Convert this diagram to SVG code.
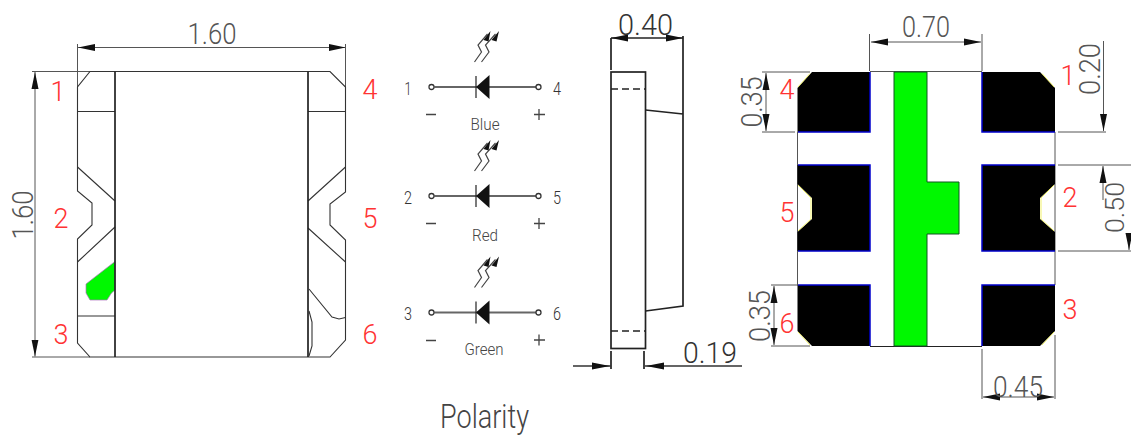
<svg xmlns="http://www.w3.org/2000/svg" width="1131" height="435" viewBox="0 0 1131 435">
<defs>
<marker id="a" markerUnits="userSpaceOnUse" markerWidth="18" markerHeight="9" refX="17" refY="4.500" orient="auto-start-reverse"><path d="M0 1L17 4.500L0 8Z" fill="#111"/></marker>
<g id="dio">
<path d="M2.800 0H105" stroke="#666" stroke-width="2"/>
<circle cx="0" cy="0" r="2.500" fill="#fff" stroke="#333" stroke-width="1.300"/><circle cx="107" cy="0" r="2.500" fill="#fff" stroke="#333" stroke-width="1.300"/>
<path d="M44.500 0L58 -12V12Z" fill="#111"/><path d="M44.500 -11V11" stroke="#222" stroke-width="1.200"/>
<path d="M43 -25L50 -35L46.500 -42L56 -53M50 -25L57.500 -35L54 -42L64 -53" fill="none" stroke="#444" stroke-width="1.200"/>
<path d="M52 -47L59 -56L57 -45.500ZM60 -47L67.500 -56L65 -45.500Z" fill="#111"/>
</g>
</defs>
<style>
text{font-family:Roboto,"Liberation Sans",Arial,sans-serif;font-weight:300}
.dim{fill:#555;font-size:30px}
.red{fill:#f33;font-size:27px}
.sm{fill:#444;font-size:16px}
.sig{fill:#333;font-size:19px}
.l{fill:none;stroke:#333;stroke-width:1.100}
.k{fill:none;stroke:#222;stroke-width:1.700}
.d{fill:none;stroke:#555;stroke-width:1}
.ar{marker-start:url(#a);marker-end:url(#a)}
.pad{fill:#000}
.blue{fill:none;stroke:#00c;stroke-width:1.500}
.g{fill:#00f800;stroke:#152;stroke-width:1}
</style>
<g id="connectors">
<path class="d ar" d="M78 47.500H345.500" stroke-width="1.300"/>
<path class="d" d="M77.500 44V88M345.500 44V88"/>
<path class="d ar" d="M35 72V356.500"/>
<path class="d" d="M32 71.500H90M32 357H90"/>
<path class="k ar" d="M611 38H683" stroke-width="1.400"/>
<path class="d ar" d="M871 42H981"/>
<path class="d" d="M869.500 34V71M982 34V71"/>
<path class="d" d="M762 72H810M762 132H795"/>
<path class="d ar" d="M766 73V131"/>
<path class="d" d="M1058 132H1106"/>
<path class="d" d="M1103.500 41V131" marker-end="url(#a)"/>
<path class="d" d="M1058 165H1131M1058 251H1131"/>
<path class="d" d="M1103 200V166" marker-end="url(#a)"/>
<path class="d" d="M1129 233V250" marker-end="url(#a)"/>
<path class="d" d="M771 285H798M771 346H810"/>
<path class="d ar" d="M774 286V345"/>
<path class="d" d="M982 349V399M1055 335V399"/>
<path class="d ar" d="M983 397H1054"/>
</g>
<g id="top-view">
<path class="l" d="M77.500 191V87L90 71.500H330L345.500 87V192L330 204V225L345.500 240V340L330 357H90L77.500 343V239L92 225V203Z"/>
<path class="l" d="M78 111.500H115M308 111.500H345.500M78 316H115"/>
<path class="l" d="M77.500 167L115 201M77.500 262L115 227M345.500 167L308 201M345.500 262L308 228"/>
<path d="M86 284L115 261.500V290L111.500 293L107 300H90L86 293Z" fill="#00f800" stroke="#b070c0" stroke-width=".7"/>
<path class="k" d="M115 71.500V357M308 71.500V357"/>
<path class="l" d="M309 289L332 317L339 319L345.500 317.500M309 311L312 322V346L309 356"/>
<text class="dim" x="212" y="44" text-anchor="middle" textLength="49" lengthAdjust="spacingAndGlyphs">1.60</text>
<text class="dim" transform="translate(33 215) rotate(-90)" text-anchor="middle" textLength="49" lengthAdjust="spacingAndGlyphs">1.60</text>
<text class="red" x="58" y="101" text-anchor="middle">1</text>
<text class="red" x="61" y="228" text-anchor="middle">2</text>
<text class="red" x="61" y="344" text-anchor="middle">3</text>
<text class="red" x="370" y="99" text-anchor="middle">4</text>
<text class="red" x="370" y="228" text-anchor="middle">5</text>
<text class="red" x="370" y="344" text-anchor="middle">6</text>
</g>
<g id="polarity">
<use href="#dio" x="431.500" y="87"/><use href="#dio" x="431.500" y="196"/><use href="#dio" x="431.500" y="312.500"/>
<g class="sig" text-anchor="middle">
<text x="408" y="95" textLength="7" lengthAdjust="spacingAndGlyphs">1</text><text x="557" y="95" textLength="8" lengthAdjust="spacingAndGlyphs">4</text>
<text x="408" y="204" textLength="8" lengthAdjust="spacingAndGlyphs">2</text><text x="557" y="204" textLength="8" lengthAdjust="spacingAndGlyphs">5</text>
<text x="408" y="320" textLength="8" lengthAdjust="spacingAndGlyphs">3</text><text x="557" y="320" textLength="8" lengthAdjust="spacingAndGlyphs">6</text>
</g>
<path d="M426 114.500H436M426 223.500H436M426 340.500H436M534 114.500H545M539 109V120M534 223.500H545M539 218V229M534 340H545M539 334.500V345.500" stroke="#444" stroke-width="1.300" fill="none"/>
<text class="sm" x="485" y="130" text-anchor="middle" textLength="29" lengthAdjust="spacingAndGlyphs">Blue</text>
<text class="sm" x="485" y="241" text-anchor="middle" textLength="26" lengthAdjust="spacingAndGlyphs">Red</text>
<text class="sm" x="484" y="355" text-anchor="middle" textLength="39" lengthAdjust="spacingAndGlyphs">Green</text>
<text x="484.500" y="428" text-anchor="middle" style="fill:#444;font-size:33px" textLength="89" lengthAdjust="spacingAndGlyphs">Polarity</text>
</g>
<g id="side-view">
<rect class="k" x="611" y="72" width="34.500" height="276.500"/>
<path class="k" d="M611 38V70M683 36V306L645.500 311M645.500 110L683 114"/>
<path d="M611 89H645M611 331H645" stroke="#222" stroke-width="1.700" stroke-dasharray="7 4" fill="none"/>
<path class="k" d="M611 351V369M644 351V369" stroke-width="1.300"/>
<path d="M573 366H611M645 366H742" fill="none" stroke="#333" stroke-width="1.500"/>
<path d="M592 362.500L610 366L592 369.500ZM664 362.500L646 366L664 369.500Z" fill="#111"/>
<text x="645.500" y="35" text-anchor="middle" style="fill:#333;font-size:30px" textLength="55" lengthAdjust="spacingAndGlyphs">0.40</text>
<text x="710" y="363" text-anchor="middle" style="fill:#333;font-size:30px" textLength="54" lengthAdjust="spacingAndGlyphs">0.19</text>
</g>
<g id="pads">
<path class="d" d="M797.500 132V285M1055 132V285M870 71.500H982"/>
<path d="M870 346.500H982" fill="none" stroke="#222" stroke-width="1.200"/>
<path class="pad" d="M812 72H870V132H797.500V88Z"/>
<path class="pad" d="M982 72H1040L1055 88V132H982Z"/>
<path class="pad" d="M797.500 165H870V251H797.500V232L812 219V198L797.500 184Z"/>
<path class="pad" d="M982 165H1055V184L1040 198V219L1055 232V251H982Z"/>
<path class="pad" d="M797.500 285H870V346H812L797.500 331Z"/>
<path class="pad" d="M982 285H1055V331L1040 346H982Z"/>
<path class="blue" d="M870 72V132H798M982 72V132H1055M798 165H870V251H798M1055 165H982V251H1055M798 285H870V346M1055 285H982V346"/>
<path d="M798 87L810 73.500M1042 73.500L1054 87M1054 185L1041 198V219L1054 231M798 185L811 198V219L798 231M798 332L810 345M1054 332L1042 345" fill="none" stroke="#ee4" stroke-width=".8"/>
<path class="g" d="M894 72H927V182H959V234H927V346H894Z"/>
<text class="dim" x="926" y="37" text-anchor="middle" textLength="48" lengthAdjust="spacingAndGlyphs">0.70</text>
<text class="dim" transform="translate(762 102) rotate(-90)" text-anchor="middle" textLength="51" lengthAdjust="spacingAndGlyphs">0.35</text>
<text class="dim" transform="translate(770 316) rotate(-90)" text-anchor="middle" textLength="52" lengthAdjust="spacingAndGlyphs">0.35</text>
<text class="dim" transform="translate(1100 69) rotate(-90)" text-anchor="middle" textLength="52" lengthAdjust="spacingAndGlyphs">0.20</text>
<text class="dim" transform="translate(1124 207.500) rotate(-90)" text-anchor="middle" textLength="51" lengthAdjust="spacingAndGlyphs" style="font-size:26px">0.50</text>
<text class="dim" x="1018" y="397" text-anchor="middle" textLength="50" lengthAdjust="spacingAndGlyphs">0.45</text>
<text class="red" x="787" y="99" text-anchor="middle">4</text>
<text class="red" x="787" y="222" text-anchor="middle">5</text>
<text class="red" x="787" y="333" text-anchor="middle">6</text>
<text class="red" x="1068" y="85" text-anchor="middle">1</text>
<text class="red" x="1070" y="207" text-anchor="middle">2</text>
<text class="red" x="1070" y="319" text-anchor="middle">3</text>
</g>
</svg>
